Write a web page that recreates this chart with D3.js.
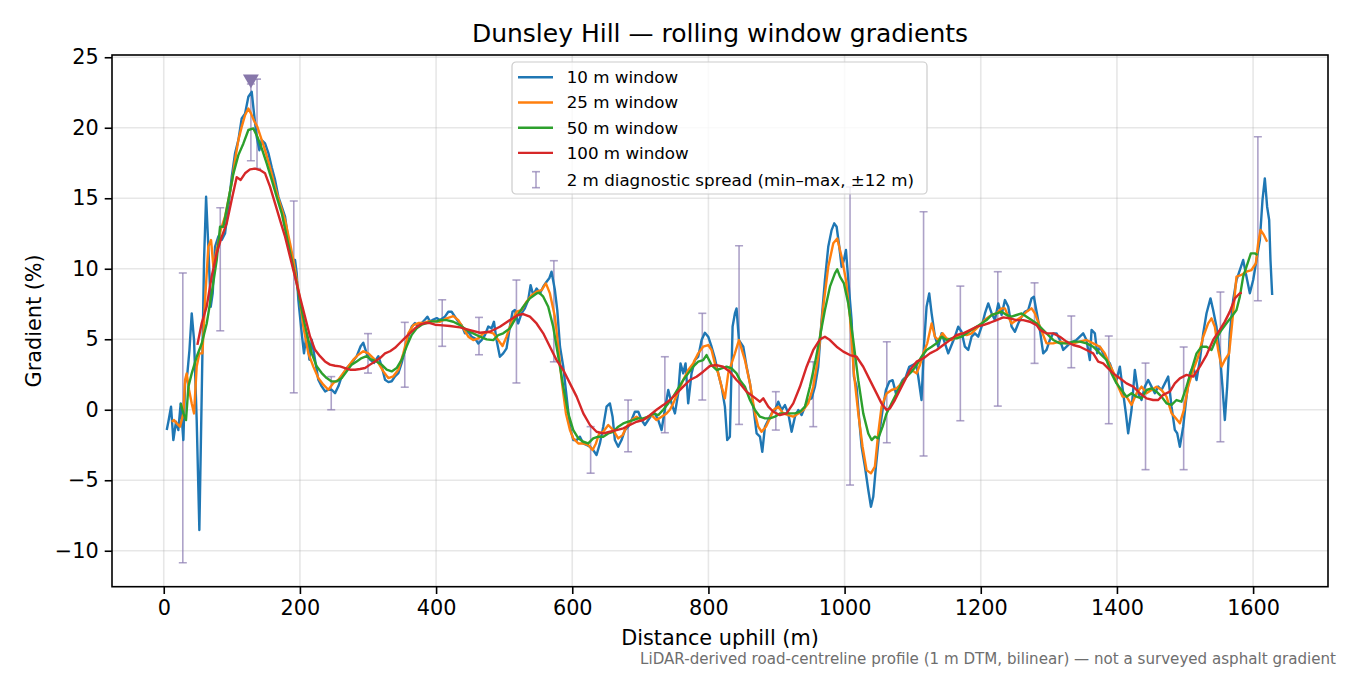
<!DOCTYPE html>
<html>
<head>
<meta charset="utf-8">
<script src="https://cdn.jsdelivr.net/npm/d3@7"></script>
<style>
  body { margin: 0; background: #fff; }
  svg { font-family: "DejaVu Sans", sans-serif; }
</style>
</head>
<body>
<svg></svg>
<script>
// rolling window gradients, [distance m, gradient %]
const win10 = [[4.4,-1.44],[6.8,-0.85],[10.7,0.21],[14.1,-2.15],[18,-0.85],[21.4,-1.44],[24.9,0.45],[28.8,-2.15],[31.3,1.87],[34.7,2.58],[37.7,4.2],[41.1,6.83],[44.5,4.94],[48.4,-0.73],[52.3,-8.53],[55.8,1.16],[59.2,10.62],[62.2,15.11],[65.5,11.57],[69,7.3],[71.9,8.25],[75.4,11.57],[80.3,12.3],[85.2,12.05],[90,12.5],[95,14.4],[99.8,16.5],[104.7,18.18],[109.6,19.12],[114.5,20.66],[119.4,21.0],[124.3,22.2],[129.2,22.55],[132.6,21.0],[136.5,19.36],[140.5,18.4],[143.9,19.12],[148.8,18.9],[153.7,18.2],[158.6,17.2],[163.5,16.3],[168.4,15.1],[173.3,14.4],[178.2,13.69],[183,12.04],[188,10.62],[192.8,10.62],[195.3,9.68],[197.7,7.79],[202.6,5.43],[206,4.0],[210,5.43],[213.9,3.55],[217.3,4.96],[222.2,3.55],[227,2.13],[232,1.66],[237,1.3],[241.8,1.42],[246.7,1.42],[251.6,1.18],[256.5,1.66],[261.4,2.37],[268.7,2.96],[276,3.32],[283.4,3.8],[289.2,4.5],[293.1,4.75],[298,4.0],[303,3.55],[308.8,3.32],[315.2,3.8],[320,3.1],[325,2.13],[330,1.96],[334.8,2.02],[339.7,2.37],[344.6,2.6],[349.5,3.32],[354.4,4.27],[359.3,5.2],[364.2,5.9],[369,6.15],[374,5.9],[378.9,6.15],[383.8,6.4],[387.2,6.6],[391.1,6.25],[396,6.4],[400.9,6.5],
  [405.7,6.36],[413,6.6],[418,6.95],[422.8,6.95],[427.7,6.6],[432.6,6.24],[437.5,6.0],[442.4,5.42],[447.3,5.53],[452.2,5.18],[457,5.06],[462,4.7],[466.9,4.94],[471.8,5.3],[476.7,5.9],[481.5,5.77],[485,6.24],[488.8,4.94],[493.7,3.76],[498.6,4.0],[503.5,4.35],[508.4,5.9],[512.3,6.95],[515.7,7.07],[520.6,6.12],[525.5,6.83],[530.4,7.19],[535.3,7.78],[538.8,8.84],[542.7,8.13],[547.6,8.6],[552.5,8.25],[557.4,8.73],[562.3,9.08],[566.2,9.32],[569.6,9.79],[574.5,8.49],[578,7.07],[582,4.47],[586.8,3.05],[591.7,0.93],[596.6,-1.2],[601.5,-2.15],[606.4,-2.15],[611.3,-1.91],[616.2,-2.39],[621,-2.5],[626,-2.62],[630.8,-2.86],[635.7,-3.21],[640.6,-2.39],[645.5,-1.2],[650.4,0.22],[655.3,0.45],[659.2,-0.49],[662.6,-2.15],[667.5,-2.62],[672.4,-2.15],[677.3,-1.44],[682.2,-1.2],[687.1,-0.73],[692,-0.14],[697,-0.14],[701.8,-0.73],[706.7,-1.08],[711.6,-0.73],[716.5,-0.38],[721.4,-0.26],[726.3,-0.73],[731.2,-1.44],[736,0.0],[741,1.4],[745.9,0.45],[750.8,-0.26],[755.6,1.16],[759,3.29],[763,2.58],[766.4,3.29],[770.3,0.45],[775.2,2.58],[780.1,3.52],[785,3.76],[790,4.94],[794.8,5.46],[799.7,5.18],[804.6,4.47],[809.5,3.64],[814.4,2.58],[819.3,1.64],[824.2,0.22],[827.6,-2.15],[831.5,-1.91],[835.5,5.9],[838.9,6.83],[841.3,7.19],[844.8,4.94],
  [851.2,4.47],[856.1,3.05],[861,1.87],[865.9,0.22],[870.8,-1.68],[875.7,-1.91],[879.1,-2.98],[883,-1.2],[887.9,-0.73],[892.8,-0.26],[897.7,-0.02],[902.6,0.57],[907.5,-0.02],[912.4,0.33],[917.3,-0.26],[922.2,-1.56],[927.1,-0.49],[932,-0.02],[936.9,-0.38],[941.8,0.22],[946.6,0.69],[951.5,0.81],[956.4,1.63],[961.3,3.05],[966.2,6.36],[971.1,9.2],[976,11.56],[980.9,12.74],[984.8,13.22],[988.3,12.98],[992.2,11.56],[995.6,10.14],[999,10.62],[1002,11.33],[1005.4,9.2],[1010.3,6.36],[1013.7,2.34],[1017.6,1.63],[1021.5,-0.73],[1025,-2.62],[1029.9,-4.04],[1034.8,-5.69],[1038.7,-6.88],[1042.1,-6.17],[1046,-4.04],[1050.9,-1.68],[1055.8,-0.02],[1060.7,1.4],[1065.6,1.99],[1070.5,2.1],[1075.4,1.16],[1080.3,1.63],[1085.2,2.1],[1090,2.34],[1095,3.05],[1099.9,3.17],[1104.8,3.29],[1108.2,2.34],[1113,0.69],[1116.5,4.47],[1120.4,7.31],[1124.3,8.25],[1127.8,6.83],[1132.7,5.18],[1137.5,4.47],[1142.5,5.42],[1147.4,4.7],[1152.2,4.0],[1157.1,4.59],[1162,5.18],[1166.9,5.89],[1171.8,5.53],[1176.7,4.47],[1181.6,4.24],[1186.5,5.18],[1191.4,5.42],[1196.3,5.18],[1201.2,5.89],[1206.1,6.83],[1211,7.54],[1216,6.83],[1220.8,6.36],[1225.7,7.54],[1230.6,6.72],[1235.5,7.78],[1240.4,7.31],[1245.3,5.89],[1250.2,5.53],[1255,6.12],[1260,6.6],[1264.8,6.95],[1269.7,7.07],[1274.6,7.9],[1278,8.02],[1282,6.95],[1286.9,5.65],
  [1291.7,4.0],[1296.6,4.24],[1301.5,4.95],[1306.4,5.42],[1311.3,5.42],[1316.2,4.95],[1321.1,4.24],[1326,4.47],[1330.9,4.71],[1335.8,4.83],[1340.6,4.95],[1345.5,5.18],[1350.4,5.42],[1355.3,4.95],[1360.2,3.53],[1362.7,5.66],[1367.6,5.42],[1371,4.0],[1374.9,4.47],[1379.8,4.0],[1384.7,3.53],[1389.6,3.29],[1394.5,2.58],[1399.4,2.11],[1404.3,3.06],[1409.2,1.17],[1413.1,-0.25],[1416.5,-1.67],[1421.4,-0.02],[1426.3,2.82],[1431.2,1.17],[1436.1,0.69],[1441,1.64],[1445.9,2.11],[1450.8,1.64],[1455.7,1.17],[1460.6,1.64],[1465.5,1.4],[1470.4,1.87],[1475.3,2.35],[1480.2,0.22],[1485,-1.43],[1488.5,-1.67],[1492.4,-2.62],[1497.3,-1.2],[1502.2,0.93],[1507.1,2.58],[1512,3.06],[1516.9,2.11],[1521.8,3.53],[1526.7,5.42],[1531.6,6.84],[1537.4,7.9],[1541.3,7.07],[1546.2,5.89],[1551.1,4.0],[1555,1.64],[1558.5,-0.73],[1561.9,1.64],[1565.8,5.42],[1570.7,7.78],[1575.6,9.2],[1580.5,9.91],[1585.4,10.62],[1590.3,9.44],[1595.2,8.26],[1600.1,9.2],[1605,10.62],[1609.9,12.04],[1613.8,14.88],[1617.2,16.41],[1620.6,14.4],[1623.6,13.46],[1625.5,10.62],[1628,8.14]];

const win25 = [[11.7,-0.85],[15.1,-0.73],[19,-0.97],[23.9,-1.2],[28.8,-0.26],[31.3,2.1],[33.7,2.58],[37.2,1.4],[41.1,0.45],[44.5,-0.26],[48.4,3.06],[52.3,4.0],[56.8,4.0],[60.7,7.78],[65.5,11.57],[69.5,12.04],[72.9,10.15],[77.8,11.33],[83.7,12.75],[90,13.69],[95,14.9],[99.8,16.04],[104.7,17.7],[109.6,19.12],[114.5,20.06],[119.4,20.89],[124.3,21.36],[128.3,21.0],[132.6,20.5],[137.5,20.06],[142.4,19.36],[148.8,18.4],[156.1,17.2],[163.5,15.8],[170.8,14.6],[178.2,13.45],[185.5,11.8],[190.4,10.62],[195.3,9.2],[200.1,7.79],[205,5.9],[212.4,4.0],[219.7,3.06],[227,2.25],[234.4,1.78],[241.8,1.42],[249.1,1.89],[256.5,2.13],[263.8,2.6],[271.2,3.08],[278.5,3.55],[285.8,3.9],[293.1,4.15],[300.5,4.0],[307.8,3.67],[315.2,3.32],[322.5,2.72],[329.8,2.25],[337.2,2.37],[344.6,2.84],[351.9,4.0],[359.3,5.43],[366.6,6.0],[374,6.15],[381.3,6.15],[388.6,6.27],[396,6.27],
  [405.7,6.24],[415.5,6.48],[425.3,6.64],[432.6,6.36],[440,5.77],[447.3,5.18],[454.6,4.94],[462,5.06],[469.3,5.42],[476.7,5.53],[484,5.42],[491.4,4.94],[497.6,4.52],[503.5,5.18],[510.9,6.24],[518.2,6.95],[525.5,7.07],[532.9,7.66],[540.3,8.13],[547.6,8.37],[555,8.49],[561.3,8.96],[567.2,8.25],[574.5,6.6],[579.5,4.47],[584.4,2.11],[590.7,-0.26],[596.6,-1.44],[601.5,-2.03],[608.9,-2.39],[616.2,-2.39],[623.5,-2.5],[629.9,-2.86],[634.8,-2.39],[639.6,-1.68],[645.5,-1.56],[652.9,-1.08],[660.2,-1.44],[667.5,-2.03],[673.9,-1.8],[679.8,-1.2],[687.1,-0.73],[694.4,-0.49],[701.8,-0.73],[709.1,-0.61],[716.5,-0.38],[723.8,-0.73],[731.2,-0.49],[738.5,-0.26],[743.4,0.0],[748.3,0.45],[755.6,1.28],[763,2.11],[770.3,2.82],[777.6,3.29],[785,4.0],[792.3,4.47],[799.7,4.59],[804.6,4.24],[809.5,3.29],[814.4,2.58],[819.3,1.64],[824.2,0.81],[829.1,2.58],[834,3.29],[838.9,4.0],[844.8,4.94],
  [853.6,3.52],[861,1.87],[868.3,-0.26],[873.2,-1.2],[878.1,-1.56],[884.5,-1.2],[890.4,-0.61],[895.3,-0.02],[902.6,0.22],[909.9,-0.26],[917.3,-0.38],[924.6,-0.49],[932,-0.26],[939.3,-0.02],[946.6,0.45],[954,1.63],[961.3,3.76],[968.7,7.31],[976,10.14],[983.4,11.8],[989.2,12.15],[995.6,10.85],[1002,9.2],[1007.8,6.6],[1013.7,2.58],[1020.1,-0.26],[1026.4,-2.62],[1032.3,-4.28],[1038.7,-4.51],[1044.5,-4.04],[1049.4,-1.68],[1054.3,0.22],[1061.7,1.16],[1069,1.4],[1076.4,1.52],[1083.7,1.87],[1091.1,2.34],[1098.4,2.82],[1105.7,2.58],[1110.6,3.17],[1115.5,4.0],[1121.4,4.71],[1127.8,6.12],[1132.7,5.18],[1137.5,4.94],[1143.9,5.42],[1149.8,5.06],[1157.1,4.94],[1164.5,5.18],[1171.8,5.42],[1179.2,5.3],[1186.5,5.42],[1193.8,5.77],[1201.2,6.12],[1208.5,6.48],[1215.9,6.72],[1223.2,6.83],[1230.6,7.19],[1235.5,7.19],[1240.4,6.6],[1245.3,6.12],[1252.6,6.36],[1260,6.6],[1267.3,6.95],[1274.6,7.19],[1279.5,6.83],[1286.9,5.89],
  [1296.6,4.71],[1306.4,4.71],[1316.2,4.83],[1326,4.71],[1335.8,4.71],[1345.5,4.83],[1355.3,4.95],[1365.1,4.71],[1374.9,4.47],[1382.2,4.0],[1389.6,3.17],[1395.5,2.58],[1401.8,1.64],[1408.2,0.93],[1414.1,0.93],[1421.4,0.34],[1428.8,1.17],[1436.1,1.64],[1443.4,1.17],[1450.8,1.4],[1458.1,1.64],[1465.5,1.4],[1472.8,0.93],[1480.2,-0.25],[1486.5,-0.61],[1492.4,-0.96],[1498.3,-0.02],[1504.6,1.64],[1512,2.82],[1519.3,3.76],[1526.7,5.18],[1534,6.13],[1538.9,6.48],[1543.8,5.89],[1548.7,4.24],[1553.6,3.06],[1558.5,3.53],[1564.8,4.0],[1569.7,6.37],[1575.6,9.44],[1582.9,9.56],[1590.3,9.8],[1597.6,9.91],[1604,10.38],[1607.4,11.8],[1610.9,12.75],[1615.8,12.4],[1620.6,11.92]];

const win50 = [[24.9,0.45],[28.8,-0.26],[32.7,-0.73],[36.2,1.63],[41.1,2.58],[48.4,3.76],[55.8,4.7],[63.1,6.12],[70.4,8.25],[77.8,10.62],[82.7,12.98],[87.6,12.98],[95,14.9],[102.3,16.75],[109.6,18.06],[117,18.89],[124.3,19.84],[131.6,19.95],[137.5,19.36],[143.9,18.54],[151.2,17.47],[158.6,16.3],[165.9,15.1],[173.3,13.93],[180.6,12.27],[188,10.62],[195.3,8.96],[202.6,7.08],[210,5.43],[217.3,4.0],[224.6,3.08],[232,2.6],[239.3,2.25],[246.7,2.01],[254,2.01],[261.4,2.25],[268.7,2.72],[276,3.2],[283.4,3.43],[290.7,3.67],[298,3.8],[305.4,3.55],[312.7,3.43],[320,3.2],[327.4,2.84],[334.8,2.72],[342.1,2.96],[349.5,3.55],[356.8,4.5],[364.2,5.31],[371.5,5.78],[378.9,6.03],[386.2,6.15],[393.5,6.27],[400.9,6.27],
  [405.7,6.36],[415.5,6.36],[425.3,6.24],[435.1,6.0],[444.9,5.65],[454.6,5.42],[464.4,5.18],[474.2,4.99],[484,4.94],[491.4,5.3],[498.6,5.42],[508.4,5.77],[518.2,6.6],[528,7.31],[537.8,7.9],[547.6,8.25],[551.5,8.3],[557.4,8.02],[564.7,7.31],[572,5.89],[579.5,3.76],[586.8,1.64],[594.1,-0.26],[601.5,-1.44],[608.9,-2.03],[616.2,-2.27],[623.5,-2.39],[630.8,-2.03],[638.2,-1.91],[645.5,-1.91],[652.9,-1.68],[660.2,-1.56],[667.5,-1.2],[674.9,-0.97],[682.2,-0.85],[689.6,-0.73],[696.9,-0.61],[704.2,-0.61],[711.6,-0.49],[718.9,-0.26],[726.3,-0.38],[733.6,0.0],[741,0.45],[748.3,0.93],[755.6,1.52],[763,2.11],[770.3,2.58],[777.6,3.05],[785,3.41],[792.3,3.52],[797.2,3.88],[804.6,3.17],[812,2.82],[819.3,2.93],[826.6,3.05],[834,2.93],[841.3,2.58],
  [846.3,2.1],[853.6,1.63],[861,0.69],[868.3,-0.02],[875.7,-0.49],[883,-0.61],[890.4,-0.61],[897.7,-0.49],[905,-0.26],[912.4,-0.26],[919.7,-0.26],[927.1,-0.26],[934.4,-0.14],[941.8,0.22],[949.1,1.63],[956.4,3.29],[963.8,5.18],[971.1,7.07],[978.5,8.73],[985.8,9.67],[989.2,9.96],[993.2,9.44],[999,8.96],[1005.4,7.54],[1012.7,4.94],[1020.1,2.1],[1027.4,-0.26],[1034.8,-1.68],[1039.7,-2.15],[1044.5,-1.91],[1049.4,-2.03],[1055.8,-1.2],[1061.7,-0.26],[1069,0.45],[1076.4,1.16],[1083.7,1.87],[1091.1,2.34],[1098.4,2.7],[1105.7,3.17],[1113,3.76],[1120.4,4.24],[1127.8,4.47],[1135.1,4.71],[1142.5,5.18],[1149.8,4.94],[1157.1,5.06],[1164.5,5.06],[1171.8,5.18],[1179.2,5.42],[1186.5,5.65],[1193.8,5.89],[1201.2,6.12],[1208.5,6.36],[1215.9,6.72],[1223.2,6.83],[1230.6,6.95],[1237.9,6.72],[1245.3,6.6],[1252.6,6.72],[1260,6.83],[1267.3,6.6],[1274.6,6.36],[1282,6.12],[1289.3,5.77],
  [1296.6,5.42],[1306.4,4.95],[1316.2,4.71],[1326,4.71],[1335.8,4.83],[1345.5,4.83],[1355.3,4.71],[1365.1,4.47],[1374.9,4.0],[1384.7,3.53],[1392,2.58],[1399.4,1.87],[1406.7,1.4],[1414.1,0.93],[1421.4,1.17],[1428.8,0.93],[1436.1,0.81],[1443.4,1.4],[1450.8,1.52],[1458.1,1.28],[1465.5,0.93],[1472.8,0.46],[1480.2,0.34],[1487.5,0.69],[1494.8,0.57],[1502.2,1.64],[1509.5,2.82],[1516.9,4.0],[1524.2,4.47],[1531.6,4.47],[1538.9,4.24],[1546.2,5.07],[1553.6,5.66],[1560.9,6.13],[1568.3,6.6],[1575.6,7.07],[1580.5,8.02],[1585.4,9.44],[1590.3,10.15],[1596.7,11.09],[1602.5,11.09],[1606.5,10.98]];

const win100 = [[49.4,4.6],[55.8,6.15],[63.1,7.33],[70.4,9.45],[77.8,11.1],[85.2,12.28],[92.5,13.22],[99.8,14.9],[107.2,16.5],[113,16.3],[119.4,16.77],[126.7,17.05],[134.1,17.1],[141.4,17.0],[148.8,16.77],[156.1,15.82],[163.5,14.64],[170.8,13.45],[178.2,12.27],[185.5,10.85],[192.8,9.43],[200.1,8.0],[207.5,6.6],[214.8,5.2],[222.2,4.25],[229.5,3.8],[236.8,3.43],[244.2,3.2],[251.6,3.12],[258.9,3.08],[266.3,2.96],[273.6,2.84],[281,2.84],[288.3,2.89],[295.7,2.96],[303,3.2],[310.3,3.43],[317.7,3.67],[325,4.0],[332.4,4.15],[339.7,4.39],[347.1,4.75],[354.4,5.1],[361.7,5.43],[369.1,5.78],[376.4,6.03],[383.8,6.15],[391.1,6.15],[398.5,6.03],
  [405.7,6.0],[420.4,5.94],[435.1,5.84],[449.8,5.65],[464.4,5.46],[479.1,5.53],[493.7,5.89],[508.4,6.36],[520.6,6.72],[528,6.79],[537.8,6.6],[547.6,6.12],[557.4,5.42],[567.2,4.47],[577,3.52],[586.8,2.82],[596.6,1.87],[606.4,0.93],[616.2,-0.26],[626,-1.08],[635.7,-1.56],[645.5,-1.68],[655.3,-1.56],[665.1,-1.44],[674.9,-1.32],[684.7,-1.08],[694.4,-0.85],[704.2,-0.73],[714,-0.38],[723.8,0.0],[733.6,0.33],[743.4,0.69],[753.2,1.16],[763,1.64],[772.8,2.11],[782.5,2.34],[792.3,2.7],[802.1,3.1],[811.9,3.17],[821.6,3.05],[831.4,2.7],[841.3,2.11],
  [846.3,1.87],[856.1,1.28],[865.9,0.93],[875.7,0.57],[880.6,0.81],[887.9,0.22],[895.3,-0.14],[905,-0.38],[914.8,-0.26],[924.6,0.45],[934.4,1.63],[944.2,3.05],[954,4.24],[963.8,4.99],[971.1,5.18],[978.5,4.94],[988.3,4.47],[998.1,4.12],[1007.8,3.88],[1017.6,3.76],[1027.4,3.05],[1037.2,2.1],[1047,1.16],[1054.3,0.45],[1061.7,-0.02],[1066.6,0.1],[1073.9,0.69],[1081.3,1.4],[1088.6,2.1],[1096,2.82],[1105.7,3.41],[1115.5,3.64],[1125.3,4.0],[1135.1,4.24],[1144.9,4.59],[1154.7,4.94],[1164.5,5.3],[1174.2,5.42],[1184,5.65],[1193.8,5.89],[1203.6,6.0],[1213.4,6.17],[1223.2,6.36],[1233,6.55],[1242.8,6.48],[1252.6,6.36],[1262.4,6.36],[1272.2,6.24],[1282,6.0],
  [1286.8,5.66],[1296.6,5.42],[1306.4,5.42],[1316.2,5.18],[1326,4.83],[1335.8,4.59],[1345.5,4.47],[1355.3,4.24],[1365.1,4.0],[1372.5,3.41],[1379.8,3.29],[1387.1,2.94],[1394.5,2.58],[1404.3,2.23],[1414.1,1.87],[1423.9,1.64],[1433.7,1.17],[1443.4,0.81],[1453.2,0.69],[1460.6,0.69],[1467.9,1.05],[1477.7,1.28],[1485,1.87],[1492.4,2.23],[1502.2,2.47],[1512,2.35],[1521.8,3.06],[1531.6,3.88],[1541.3,4.95],[1551.1,5.66],[1558.5,6.25],[1565.8,6.96],[1573.2,7.9],[1580.5,8.26],[1583.4,8.3]];

// 2 m diagnostic spread (min-max within +/-12 m)
const spreadX = [28, 83, 137, 191, 246, 300, 354, 409, 463, 518, 573, 627, 682, 736, 791, 845, 899, 954, 1008, 1062, 1116, 1170, 1225, 1279, 1333, 1388, 1442, 1498, 1552, 1607];
const spreadLo = [-10.85, 5.6, 17.1, 1.2, 0.0, 2.6, 1.6, 4.5, 3.9, 1.9, 3.4, -4.5, -2.98, -1.63, 0.69, -1.04, -1.44, -1.2, -5.34, -2.34, -3.28, -0.78, 0.26, 3.29, 2.98, -0.99, -4.25, -4.25, -2.27, 7.73];
const spreadHi = [9.7, 14.33, 23.45, 14.8, 2.35, 5.4, 6.2, 7.8, 6.55, 9.2, 10.57, -1.2, 0.69, 3.76, 6.84, 11.63, 1.28, 3.4, 15.8, 4.82, 14.04, 8.77, 9.79, 9.0, 6.65, 5.23, 3.31, 4.45, 8.35, 19.36];

// steepest point of the 2 m profile
const peakX = [128];
const peakLo = [17.66];
const peakHi = [23.1];
const peakMark = [23.45];

const series = [
  { name: "10 m window", data: win10, color: "#1f77b4" },
  { name: "25 m window", data: win25, color: "#ff7f0e" },
  { name: "50 m window", data: win50, color: "#2ca02c" },
  { name: "100 m window", data: win100, color: "#d62728" }
];
const xTicks = [0, 200, 400, 600, 800, 1000, 1200, 1400, 1600];
const yTicks = [-10, -5, 0, 5, 10, 15, 20, 25];

var margin = { top: 55, right: 22, bottom: 88.3, left: 112 },
  width = 1350 - margin.left - margin.right,
  height = 675 - margin.top - margin.bottom;

var root = d3.select("svg").attr("width", 1350).attr("height", 675);
root.append("rect").attr("width", 1350).attr("height", 675).attr("fill", "#fff");

var svg = root
  .append("g")
  .attr("transform", "translate(" + margin.left + "," + margin.top + ")");

var x = d3.scaleLinear().domain([-76, 1710]).range([0, width]);
var y = d3.scaleLinear().domain([-12.55, 25.16]).range([height, 0]);

// grid
svg.append("g")
  .selectAll("line")
  .data(xTicks)
  .enter()
  .append("line")
  .attr("x1", d => x(d)).attr("x2", d => x(d))
  .attr("y1", 0).attr("y2", height)
  .attr("stroke", "#b0b0b0").attr("stroke-opacity", 0.3).attr("stroke-width", 1.6);
svg.append("g")
  .selectAll("line")
  .data(yTicks)
  .enter()
  .append("line")
  .attr("y1", d => y(d)).attr("y2", d => y(d))
  .attr("x1", 0).attr("x2", width)
  .attr("stroke", "#b0b0b0").attr("stroke-opacity", 0.3).attr("stroke-width", 1.6);

svg.append("clipPath").attr("id", "plot")
  .append("rect").attr("width", width).attr("height", height);
var plot = svg.append("g").attr("clip-path", "url(#plot)");

// error bars
const barColor = "#8a7bb0";
function drawBars(xs, lo, hi) {
  var g = plot.append("g")
    .attr("stroke", barColor).attr("stroke-opacity", 0.7).attr("stroke-width", 1.6);
  xs.forEach(function (d, i) {
    g.append("line").attr("x1", x(d)).attr("x2", x(d)).attr("y1", y(lo[i])).attr("y2", y(hi[i]));
    g.append("line").attr("x1", x(d) - 4).attr("x2", x(d) + 4).attr("y1", y(lo[i])).attr("y2", y(lo[i]));
    g.append("line").attr("x1", x(d) - 4).attr("x2", x(d) + 4).attr("y1", y(hi[i])).attr("y2", y(hi[i]));
  });
}
drawBars(spreadX, spreadLo, spreadHi);
drawBars(peakX, peakLo, peakHi);

// lines
var line = d3.line().x(d => x(d[0])).y(d => y(d[1]));
series.forEach(function (s) {
  plot.append("path")
    .datum(s.data)
    .attr("d", line)
    .attr("fill", "none")
    .attr("stroke", s.color)
    .attr("stroke-width", 2.4)
    .attr("stroke-linejoin", "round");
});

// peak marker
svg.selectAll(".peak")
  .data(peakX)
  .enter()
  .append("path")
  .attr("d", d3.symbol().type(d3.symbolTriangle).size(110))
  .attr("transform", (d, i) => "translate(" + x(d) + "," + y(peakMark[i]) + ") rotate(180)")
  .attr("fill", "#8777aa");

// axes
var xAxis = svg.append("g")
  .attr("transform", "translate(0," + height + ")")
  .call(d3.axisBottom(x).tickValues(xTicks).tickFormat(d3.format("d")).tickSize(7.3).tickPadding(6));
var yAxis = svg.append("g")
  .call(d3.axisLeft(y).tickValues(yTicks).tickSize(7.3).tickPadding(6));
[xAxis, yAxis].forEach(function (a) {
  a.select(".domain").remove();
  a.selectAll("line").attr("stroke", "#000").attr("stroke-width", 1.6);
  a.selectAll("text").attr("font-size", "20.8px").attr("fill", "#000")
    .attr("font-family", "DejaVu Sans");
});

svg.append("rect")
  .attr("width", width).attr("height", height)
  .attr("fill", "none").attr("stroke", "#000").attr("stroke-width", 1.6);

// legend
var leg = svg.append("g").attr("transform", "translate(" + (512 - margin.left) + "," + (62 - margin.top) + ")");
leg.append("rect")
  .attr("width", 415).attr("height", 132).attr("rx", 4)
  .attr("fill", "#fff").attr("fill-opacity", 0.8)
  .attr("stroke", "#cccccc").attr("stroke-width", 1.2);
series.forEach(function (s, i) {
  var cy = 15.3 + i * 25.2;
  leg.append("line").attr("x1", 6).attr("x2", 41).attr("y1", cy).attr("y2", cy)
    .attr("stroke", s.color).attr("stroke-width", 2.4);
  leg.append("text").attr("x", 54.7).attr("y", cy).attr("dy", "0.35em")
    .attr("font-size", "16.7px").text(s.name);
});
var ly = 15.3 + 4 * 25.6;
var lg = leg.append("g").attr("stroke", barColor).attr("stroke-opacity", 0.7).attr("stroke-width", 1.6);
lg.append("line").attr("x1", 24).attr("x2", 24).attr("y1", ly - 8).attr("y2", ly + 8);
lg.append("line").attr("x1", 20).attr("x2", 28).attr("y1", ly - 8).attr("y2", ly - 8);
lg.append("line").attr("x1", 20).attr("x2", 28).attr("y1", ly + 8).attr("y2", ly + 8);
leg.append("text").attr("x", 54.7).attr("y", ly).attr("dy", "0.35em")
  .attr("font-size", "16.7px").text("2 m diagnostic spread (min\u2013max, \u00b112 m)");

// titles
root.append("text").attr("x", margin.left + width / 2).attr("y", 42)
  .attr("text-anchor", "middle").attr("font-size", "25px")
  .text("Dunsley Hill \u2014 rolling window gradients");
root.append("text").attr("x", margin.left + width / 2).attr("y", 645)
  .attr("text-anchor", "middle").attr("font-size", "20.8px")
  .text("Distance uphill (m)");
root.append("text").attr("transform", "translate(41," + (margin.top + height / 2) + ") rotate(-90)")
  .attr("text-anchor", "middle").attr("font-size", "20.8px")
  .text("Gradient (%)");
root.append("text").attr("x", 1336).attr("y", 664)
  .attr("text-anchor", "end").attr("font-size", "15.1px").attr("fill", "#6e6e6e")
  .text("LiDAR-derived road-centreline profile (1 m DTM, bilinear) \u2014 not a surveyed asphalt gradient");
</script>
</body>
</html>
